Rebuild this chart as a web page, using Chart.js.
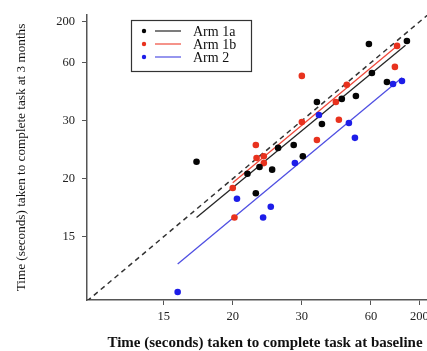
<!DOCTYPE html>
<html>
<head>
<meta charset="utf-8">
<script src="https://cdn.jsdelivr.net/npm/chart.js@4.4.1/dist/chart.umd.min.js"></script>
<style>
  html, body { margin: 0; padding: 0; background: #fff; overflow: hidden; }
  #wrap { width: 427px; height: 351px; overflow: hidden; position: relative; }
  #c { position: absolute; left: 0; top: 0; }
</style>
</head>
<body>
<div id="wrap"><canvas id="c" width="443" height="351"></canvas></div>
<script>
// ---- data ----
const tickValues = [15, 20, 30, 60, 200];

const arm1aX = [17.2, 21.8, 23.4, 25.2, 26.1, 22.9, 28.6, 30.3, 34.9, 36.7, 44.8, 51.6, 58.8, 61.5, 89.4, 147];
const arm1aY = [22.5, 20.7, 21.7, 21.3, 24.8, 18.6, 25.3, 23.4, 37.5, 29.3, 38.9, 40.3, 104, 53.0, 47.6, 114];

const arm1bX = [22.9, 23.0, 24.0, 24.0, 20.0, 20.2, 30.0, 30.0, 34.9, 42.2, 43.5, 47.1, 109, 115];
const arm1bY = [25.3, 23.1, 23.4, 22.3, 19.1, 16.5, 51.2, 29.7, 26.2, 37.5, 30.3, 46.0, 57.0, 98.5];

const arm2X = [15.9, 20.5, 23.9, 25.0, 28.8, 35.6, 48.1, 51.1, 104, 130];
const arm2Y = [11.4, 18.1, 16.5, 17.4, 22.3, 32.1, 29.5, 26.6, 46.5, 48.2];

// fitted lines (end points)
const fit1aX = [17.2, 142];
const fit1aY = [16.5, 100];
const fit1bX = [20.0, 115];
const fit1bY = [19.6, 98.5];
const fit2X = [15.9, 130];
const fit2Y = [13.1, 50.0];

// identity reference line
const identX = [10, 400];
const identY = [10, 400];

const seriesNames = ['Arm 1a', 'Arm 1b', 'Arm 2'];

// ---- custom axis: ticks equally spaced, log-interpolated between them ----
const anchorV = tickValues;
const anchorU = [0, 1, 2, 3, 3.7];
function toUnit(v) {
  const n = anchorV.length;
  let i = 0;
  if (v <= anchorV[0]) i = 0;
  else if (v >= anchorV[n - 1]) i = n - 2;
  else { while (i < n - 2 && v > anchorV[i + 1]) i++; }
  const l0 = Math.log(anchorV[i]), l1 = Math.log(anchorV[i + 1]);
  return anchorU[i] + (Math.log(v) - l0) / (l1 - l0) * (anchorU[i + 1] - anchorU[i]);
}
function fromUnit(u) {
  const n = anchorU.length;
  let i = 0;
  if (u <= anchorU[0]) i = 0;
  else if (u >= anchorU[n - 1]) i = n - 2;
  else { while (i < n - 2 && u > anchorU[i + 1]) i++; }
  const l0 = Math.log(anchorV[i]), l1 = Math.log(anchorV[i + 1]);
  return Math.exp(l0 + (u - anchorU[i]) / (anchorU[i + 1] - anchorU[i]) * (l1 - l0));
}

class PwLogScale extends Chart.Scale {
  determineDataLimits() {
    this.min = this.options.min;
    this.max = this.options.max;
  }
  buildTicks() {
    return tickValues.map(v => ({ value: v }));
  }
  getLabelForValue(v) { return String(v); }
  configure() {
    super.configure();
    this._uMin = toUnit(this.min);
    this._uMax = toUnit(this.max);
  }
  getPixelForValue(v) {
    return this.getPixelForDecimal((toUnit(v) - this._uMin) / (this._uMax - this._uMin));
  }
  getValueForPixel(p) {
    return fromUnit(this._uMin + this.getDecimalForPixel(p) * (this._uMax - this._uMin));
  }
}
PwLogScale.id = 'pwlog';
PwLogScale.defaults = {};
Chart.register(PwLogScale);

// ---- styling ----
const pointColors = ['#050505', '#e8321e', '#1d1de8'];
const lineColors = ['#262626', '#ef4a3c', '#4f4fe2'];
const zip = (xs, ys) => xs.map((x, i) => ({ x: x, y: ys[i] }));

const serif = '"Liberation Serif", "DejaVu Serif", serif';

const legendPlugin = {
  id: 'boxLegend',
  afterDraw(chart) {
    const ctx = chart.ctx;
    const a = chart.chartArea;
    const bx = a.left + 44, by = a.top + 5, bw = 120, bh = 51;
    ctx.save();
    ctx.strokeStyle = '#333';
    ctx.lineWidth = 1.2;
    ctx.strokeRect(bx + 0.5, by + 0.5, bw, bh);
    ctx.font = '14px ' + serif;
    ctx.textBaseline = 'middle';
    ctx.textAlign = 'left';
    for (let i = 0; i < seriesNames.length; i++) {
      const y = by + 11 + i * 13;
      ctx.fillStyle = pointColors[i];
      ctx.beginPath();
      ctx.arc(bx + 13, y, 2.2, 0, Math.PI * 2);
      ctx.fill();
      ctx.strokeStyle = lineColors[i];
      ctx.lineWidth = 1.2;
      ctx.beginPath();
      ctx.moveTo(bx + 24, y);
      ctx.lineTo(bx + 50, y);
      ctx.stroke();
      ctx.fillStyle = '#111';
      ctx.fillText(seriesNames[i], bx + 62, y + 1);
    }
    ctx.restore();
  }
};

const pointDs = (label, xs, ys, i) => ({
  label: label,
  data: zip(xs, ys),
  showLine: false,
  pointRadius: 3.3,
  pointBackgroundColor: pointColors[i],
  pointBorderColor: pointColors[i],
  pointBorderWidth: 0,
  order: 1
});
const lineDs = (label, xs, ys, color, dash, width) => ({
  label: label,
  data: zip(xs, ys),
  showLine: true,
  pointRadius: 0,
  borderColor: color,
  borderWidth: width,
  borderDash: dash,
  fill: false,
  order: 2
});

new Chart(document.getElementById('c'), {
  type: 'scatter',
  data: {
    datasets: [
      lineDs('identity', identX, identY, '#333', [5, 4], 1.5),
      lineDs('fit 1a', fit1aX, fit1aY, lineColors[0], [], 1.3),
      lineDs('fit 1b', fit1bX, fit1bY, lineColors[1], [], 1.3),
      lineDs('fit 2', fit2X, fit2Y, lineColors[2], [], 1.3),
      pointDs(seriesNames[0], arm1aX, arm1aY, 0),
      pointDs(seriesNames[1], arm1bX, arm1bY, 1),
      pointDs(seriesNames[2], arm2X, arm2Y, 2)
    ]
  },
  options: {
    responsive: false,
    animation: false,
    devicePixelRatio: 1,
    layout: { autoPadding: false, padding: { top: 15, left: 0, right: 0, bottom: 0 } },
    plugins: { legend: { display: false }, tooltip: { enabled: false } },
    scales: {
      x: {
        type: 'pwlog',
        position: 'bottom',
        min: 10.9,
        max: 361,
        afterFit: s => { s.height = 51; s.paddingLeft = 0; s.paddingRight = 0; },
        grid: { display: true, drawOnChartArea: false, drawTicks: true, tickLength: 5, color: '#555', lineWidth: 1 },
        border: { display: true, color: '#555', width: 1.5 },
        ticks: { autoSkip: false, maxRotation: 0, padding: 4, color: '#222', font: { family: serif, size: 12.5 }, callback: v => String(v) },
        title: { display: true, text: 'Time (seconds) taken to complete task at baseline', color: '#111',
                 font: { family: serif, size: 15, weight: 'bold', lineHeight: 1.0 }, padding: { top: 0, bottom: 0 } }
      },
      y: {
        type: 'pwlog',
        position: 'left',
        min: 10.96,
        max: 246,
        afterFit: s => { s.width = 87; s.paddingTop = 0; s.paddingBottom = 0; },
        grid: { display: true, drawOnChartArea: false, drawTicks: true, tickLength: 5, color: '#555', lineWidth: 1 },
        border: { display: true, color: '#555', width: 1.5 },
        ticks: { autoSkip: false, padding: 7, color: '#222', font: { family: serif, size: 12.5 }, callback: v => String(v) },
        title: { display: true, text: 'Time (seconds) taken to complete task at 3 months', color: '#111',
                 font: { family: serif, size: 13.2 }, padding: { top: 14, bottom: 0 } }
      }
    }
  },
  plugins: [legendPlugin]
});
</script>
</body>
</html>
